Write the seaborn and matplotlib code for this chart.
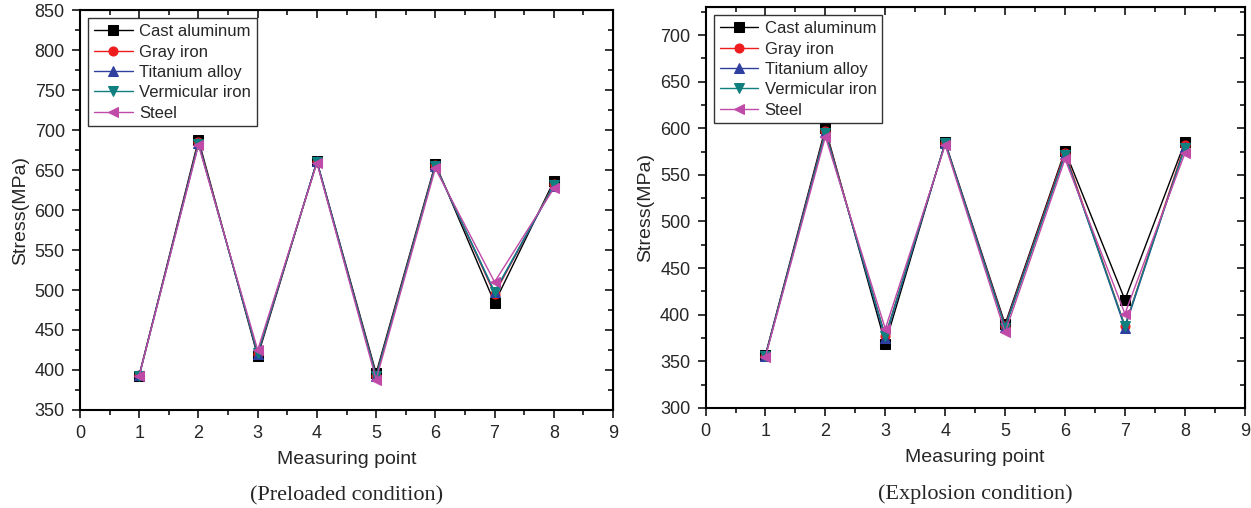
import numpy as np
import pandas as pd
import seaborn as sns
import matplotlib.pyplot as plt
from matplotlib.ticker import MultipleLocator

# measuring points and series values
points = [1, 2, 3, 4, 5, 6, 7, 8]
materials = ["Cast aluminum", "Gray iron", "Titanium alloy", "Vermicular iron", "Steel"]

pre_cast = [393, 688, 417, 661, 396, 658, 484, 636]
pre_gray = [394, 685, 420, 660, 393, 656, 495, 632]
pre_titan = [394, 684, 420, 661, 392, 655, 497, 630]
pre_verm = [393, 683, 421, 660, 392, 655, 498, 631]
pre_steel = [393, 681, 425, 659, 388, 652, 510, 627]

exp_cast = [357, 600, 369, 585, 390, 576, 416, 585]
exp_gray = [356, 597, 377, 584, 388, 574, 388, 582]
exp_titan = [356, 596, 375, 584, 387, 572, 386, 580]
exp_verm = [356, 595, 377, 584, 386, 571, 388, 579]
exp_steel = [355, 591, 385, 582, 381, 567, 401, 573]

colors = ["black", "#ee1c1c", "#2f3fa0", "#0f7f7f", "#c04aa8"]
markers = ["s", "o", "^", "v", "<"]

sns.set_style("white")
plt.rcParams["font.family"] = ["Liberation Sans", "DejaVu Sans"]


def set_ticks(axis_obj, major, minor):
	axis_obj.set_major_locator(MultipleLocator(major))
	axis_obj.set_minor_locator(MultipleLocator(minor))


def draw_panel(ax, series, ylim, caption):
	for name, vals, c, m in zip(materials, series, colors, markers):
		df = pd.DataFrame({"point": points, "stress": vals})
		sns.lineplot(data=df, x="point", y="stress", ax=ax, color=c, marker=m,
			markersize=6.5, markeredgecolor=c, linewidth=1.0, label=name)
	ax.set_xlim(0, 9)
	ax.set_ylim(*ylim)
	set_ticks(ax.xaxis, 1, 0.5)
	set_ticks(ax.yaxis, 50, 25)
	ax.tick_params(which="both", bottom=True, left=True, top=False, right=False,
		direction="out", labelsize=13, width=1.3, pad=5)
	ax.tick_params(which="major", length=6)
	ax.tick_params(which="minor", length=3.5)
	for sp in ax.spines.values():
		sp.set_linewidth(1.5)
		sp.set_color("black")
	ax.set_xlabel("Measuring point", fontsize=14, labelpad=6)
	ax.set_ylabel("Stress(MPa)", fontsize=14, labelpad=4)
	leg = ax.legend(loc="upper left", fontsize=12, frameon=True, fancybox=False,
		edgecolor="black", handlelength=2.3, borderpad=0.35, labelspacing=0.32,
		handletextpad=0.4, borderaxespad=0.5)
	leg.get_frame().set_linewidth(1.0)
	ax.text(0.5, -0.19, caption, transform=ax.transAxes, ha="center", va="top",
		fontsize=16, family="Liberation Serif")

	# top/right ticks point inward as in the original
	sec_x = ax.secondary_xaxis("top")
	set_ticks(sec_x.xaxis, 1, 0.5)
	sec_x.tick_params(which="both", direction="in", labeltop=False, width=1.3)
	sec_x.tick_params(which="major", length=6)
	sec_x.tick_params(which="minor", length=3.5)
	sec_y = ax.secondary_yaxis("right")
	set_ticks(sec_y.yaxis, 50, 25)
	sec_y.tick_params(which="both", direction="in", labelright=False, width=1.3)
	sec_y.tick_params(which="major", length=6)
	sec_y.tick_params(which="minor", length=3.5)


fig = plt.figure(figsize=(12.51, 5.08), dpi=100)
ax1 = fig.add_axes([0.064, 0.193, 0.426, 0.787])
ax2 = fig.add_axes([0.564, 0.197, 0.431, 0.789])

draw_panel(ax1, [pre_cast, pre_gray, pre_titan, pre_verm, pre_steel], (350, 850),
	"(Preloaded condition)")
draw_panel(ax2, [exp_cast, exp_gray, exp_titan, exp_verm, exp_steel], (300, 730),
	"(Explosion condition)")

fig.savefig("out.png", dpi=100)
